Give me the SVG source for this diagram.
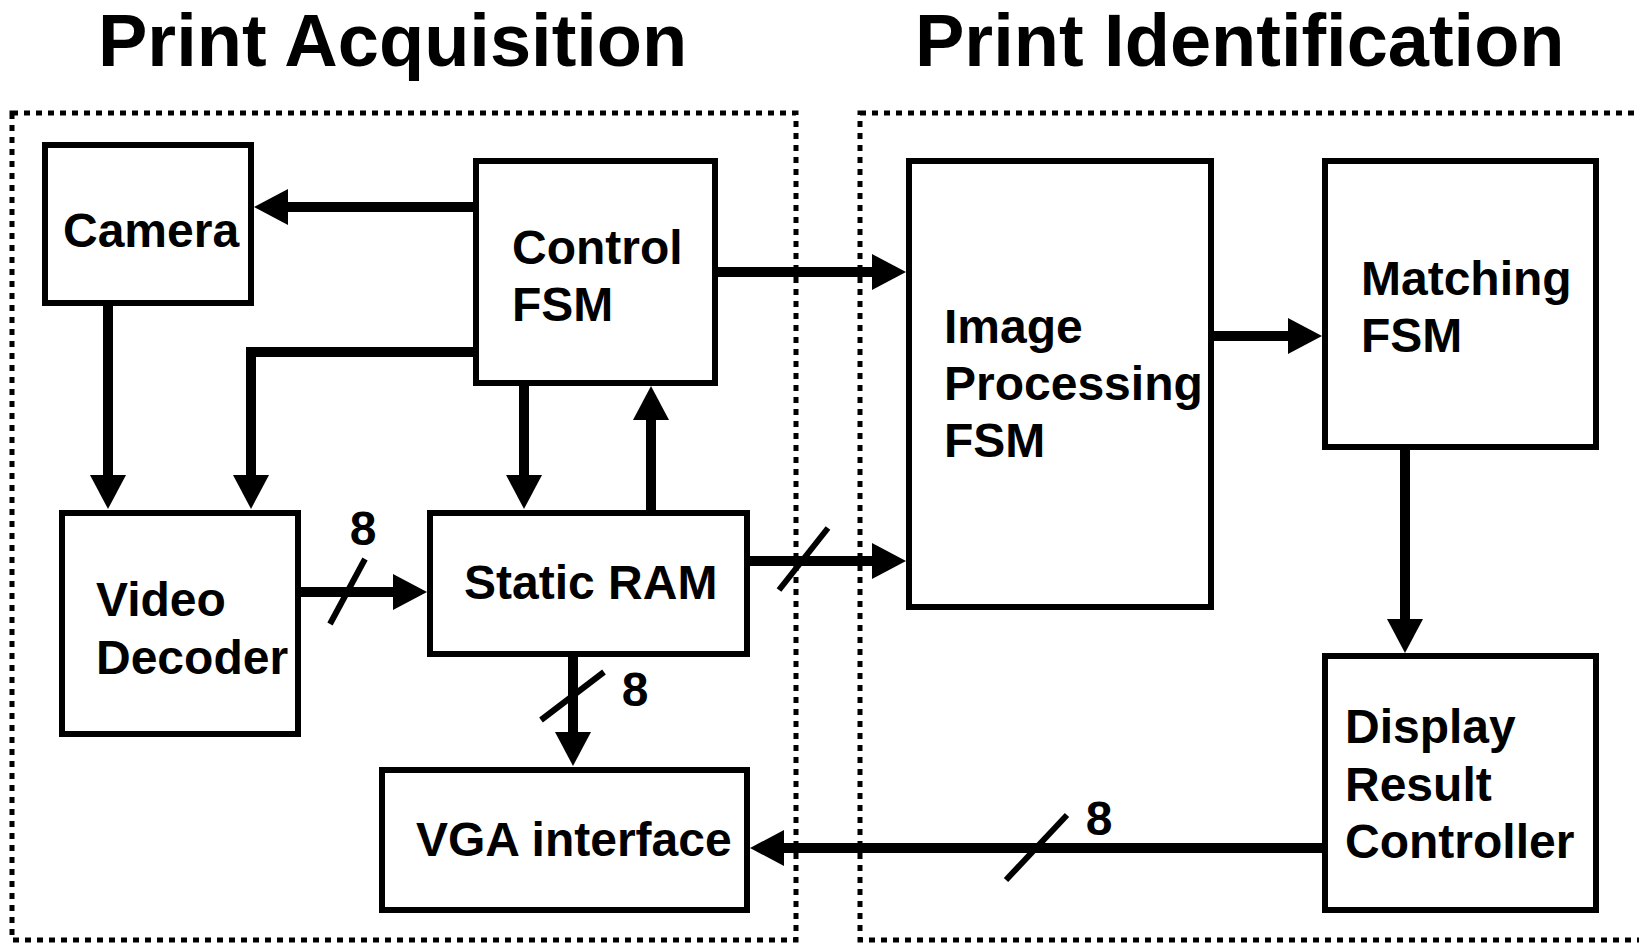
<svg xmlns="http://www.w3.org/2000/svg" width="1639" height="943" viewBox="0 0 1639 943">
<style>
.box{fill:#fff;stroke:#000;stroke-width:6}
.grp{fill:none;stroke:#000;stroke-width:5;stroke-dasharray:6 6}
.t{font-family:"Liberation Sans",Arial,sans-serif;font-weight:bold;font-size:48px;fill:#000}
.title{font-family:"Liberation Sans",Arial,sans-serif;font-weight:bold;font-size:74px;fill:#000}
.c{fill:none;stroke:#000;stroke-width:10;marker-end:url(#ah)}
.s{fill:none;stroke:#000;stroke-width:6}
</style>
<defs>
<marker id="ah" markerUnits="userSpaceOnUse" markerWidth="34" markerHeight="36" refX="14" refY="18" orient="auto">
<path d="M0,0 L34,18 L0,36 z" fill="#000"/>
</marker>
</defs>
<rect width="1639" height="943" fill="#fff"/>
<text class="title" x="98" y="66">Print Acquisition</text>
<text class="title" x="915" y="66">Print Identification</text>
<g id="group-acquisition"><rect class="grp" x="12" y="113" width="784" height="827"/></g>
<g id="group-identification"><rect class="grp" x="860" y="113" width="800" height="827"/></g>
<g id="connectors">
<path class="c" d="M473,207 L274,207"/>
<path class="c" d="M108,306 L108,489"/>
<path class="c" d="M473,352 L251,352 L251,489"/>
<path class="c" d="M524,386 L524,489"/>
<path class="c" d="M651,510 L651,406"/>
<path class="c" d="M718,272 L886,272"/>
<path class="c" d="M301,592 L407,592"/>
<path class="s" d="M330,624 L365,559"/>
<path class="c" d="M750,561 L886,561"/>
<path class="s" d="M779,590 L828,528"/>
<path class="c" d="M573,657 L573,746"/>
<path class="s" d="M541,720 L604,672"/>
<path class="c" d="M1214,336 L1302,336"/>
<path class="c" d="M1405,450 L1405,633"/>
<path class="c" d="M1322,848 L770,848"/>
<path class="s" d="M1006,880 L1067,815"/>
<text class="t" x="363" y="545" text-anchor="middle">8</text>
<text class="t" x="635" y="706" text-anchor="middle">8</text>
<text class="t" x="1099" y="835" text-anchor="middle">8</text>
</g>
<g id="camera"><rect class="box" x="45" y="145" width="206" height="158"/><text class="t" x="63" y="247">Camera</text></g>
<g id="control-fsm"><rect class="box" x="476" y="161" width="239" height="222"/><text class="t" x="512" y="264">Control</text><text class="t" x="512" y="321">FSM</text></g>
<g id="video-decoder"><rect class="box" x="62" y="513" width="236" height="221"/><text class="t" x="96" y="616">Video</text><text class="t" x="96" y="674">Decoder</text></g>
<g id="static-ram"><rect class="box" x="430" y="513" width="317" height="141"/><text class="t" x="464" y="599">Static RAM</text></g>
<g id="vga-interface"><rect class="box" x="382" y="770" width="365" height="140"/><text class="t" x="416" y="856">VGA interface</text></g>
<g id="image-processing-fsm"><rect class="box" x="909" y="161" width="302" height="446"/><text class="t" x="944" y="343">Image</text><text class="t" x="944" y="400">Processing</text><text class="t" x="944" y="457">FSM</text></g>
<g id="matching-fsm"><rect class="box" x="1325" y="161" width="271" height="286"/><text class="t" x="1361" y="295">Matching</text><text class="t" x="1361" y="352">FSM</text></g>
<g id="display-result-controller"><rect class="box" x="1325" y="656" width="271" height="254"/><text class="t" x="1345" y="743">Display</text><text class="t" x="1345" y="801">Result</text><text class="t" x="1345" y="858">Controller</text></g>
</svg>
